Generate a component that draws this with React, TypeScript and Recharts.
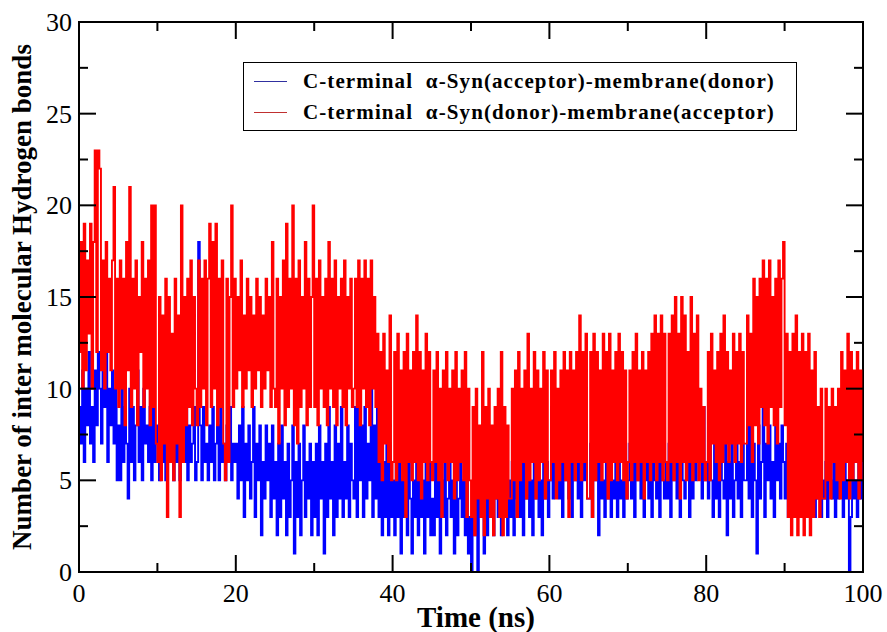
import React from 'react';
import { LineChart, Line, XAxis, YAxis, ReferenceArea } from 'recharts';

// hydrogen bond counts, one value every 0.2 ns
const acceptor = [
  9, 7, 11, 6, 10, 8, 12, 7, 9, 6, 11, 8, 12, 10, 7, 11, 9, 13, 6, 10, 8, 11, 7, 10, 5,
  8, 5, 10, 6, 9, 7, 4, 10, 6, 9, 5, 8, 11, 6, 9, 5, 10, 7, 8, 6, 9, 5, 10, 6, 8,
  7, 5, 9, 6, 8, 5, 7, 9, 6, 12, 5, 8, 6, 9, 5, 7, 8, 6, 9, 5, 8, 6, 7, 9, 5,
  6, 18, 8, 5, 9, 6, 7, 5, 8, 6, 9, 5, 7, 8, 5, 9, 6, 7, 5, 8, 6, 9, 5, 7, 6,
  7, 4, 8, 5, 9, 3, 7, 5, 8, 4, 6, 9, 3, 7, 5, 8, 2, 6, 4, 8, 5, 7, 3, 8, 4,
  6, 2, 7, 3, 8, 4, 6, 2, 7, 3, 5, 8, 1, 6, 3, 7, 2, 5, 8, 3, 6, 4, 7, 2, 6,
  3, 7, 2, 8, 4, 6, 1, 7, 3, 9, 4, 6, 2, 8, 3, 7, 4, 9, 3, 6, 4, 8, 3, 7, 5,
  4, 9, 3, 10, 5, 8, 3, 9, 4, 7, 5, 10, 3, 8, 4, 9, 3, 7, 2, 6, 3, 8, 2, 7, 3,
  5, 2, 7, 3, 6, 1, 5, 3, 7, 2, 6, 4, 1, 5, 3, 7, 2, 6, 3, 5, 1, 7, 3, 6, 2,
  4, 2, 6, 3, 7, 1, 5, 3, 6, 2, 4, 7, 3, 5, 1, 6, 2, 4, 7, 3, 5, 2, 6, 1, 3,
  0, 4, 2, 6, 0, 5, 3, 7, 1, 4, 2, 5, 3, 6, 2, 4, 7, 3, 5, 2, 6, 3, 4, 2, 5,
  3, 6, 2, 7, 4, 5, 3, 8, 2, 6, 4, 7, 3, 5, 2, 6, 4, 8, 3, 5, 2, 7, 4, 6, 3,
  5, 9, 4, 10, 6, 8, 4, 7, 3, 9, 5, 6, 4, 8, 3, 7, 5, 6, 4, 9, 3, 7, 5, 8, 4,
  4, 7, 3, 8, 5, 6, 2, 7, 4, 5, 3, 6, 4, 8, 3, 5, 4, 7, 3, 6, 4, 5, 3, 7, 4,
  5, 7, 4, 6, 3, 8, 5, 6, 4, 7, 3, 5, 6, 4, 7, 3, 8, 5, 4, 6, 3, 7, 5, 4, 6,
  4, 7, 3, 6, 5, 8, 4, 6, 3, 7, 5, 4, 8, 6, 3, 7, 4, 9, 5, 10, 6, 8, 4, 9, 5,
  6, 4, 8, 5, 3, 7, 4, 6, 3, 8, 5, 4, 7, 2, 6, 4, 8, 3, 5, 7, 4, 6, 3, 7, 5,
  5, 8, 4, 9, 3, 7, 5, 1, 8, 4, 6, 9, 3, 7, 5, 8, 4, 6, 3, 9, 5, 7, 4, 8, 6,
  4, 7, 3, 6, 5, 8, 3, 6, 4, 7, 3, 5, 4, 6, 3, 7, 5, 4, 6, 3, 5, 4, 7, 3, 5,
  4, 6, 3, 7, 5, 4, 8, 3, 6, 4, 5, 7, 3, 6, 4, 5, 0, 3, 6, 4, 5, 3, 7, 4, 6,
];

const donor = [
  12, 18, 10, 19, 11, 17, 13, 19, 10, 18, 23, 12, 23, 22, 11, 17, 10, 18, 12, 16, 11, 17, 21, 10, 16,
  9, 17, 10, 16, 8, 18, 11, 21, 9, 16, 10, 17, 8, 15, 12, 18, 9, 16, 10, 17, 8, 20, 9, 20, 7,
  6, 15, 5, 14, 7, 16, 3, 15, 6, 13, 5, 16, 7, 14, 3, 20, 6, 15, 8, 16, 9, 17, 8, 15, 10,
  8, 17, 9, 16, 10, 17, 8, 16, 19, 9, 18, 10, 19, 8, 16, 9, 17, 7, 5, 16, 6, 15, 20, 9, 16,
  10, 15, 11, 17, 9, 14, 10, 16, 11, 15, 9, 14, 10, 16, 11, 15, 9, 14, 10, 16, 11, 15, 9, 18, 10,
  9, 16, 7, 15, 10, 17, 8, 19, 9, 16, 10, 20, 8, 16, 7, 17, 9, 15, 10, 18, 8, 16, 9, 15, 20,
  9, 16, 8, 17, 10, 15, 9, 16, 8, 18, 10, 16, 9, 17, 8, 15, 10, 16, 9, 17, 8, 15, 10, 16, 9,
  10, 16, 9, 17, 8, 16, 10, 17, 9, 16, 8, 17, 10, 15, 9, 13, 6, 12, 5, 13, 7, 11, 6, 14, 5,
  6, 12, 5, 13, 6, 11, 5, 12, 3, 13, 6, 11, 5, 12, 6, 14, 5, 12, 4, 11, 6, 13, 5, 12, 6,
  5, 11, 6, 12, 5, 10, 3, 11, 6, 12, 5, 10, 6, 11, 4, 12, 5, 10, 6, 11, 5, 12, 3, 10, 5,
  3, 9, 2, 10, 4, 8, 3, 12, 2, 9, 4, 10, 3, 8, 2, 9, 4, 10, 3, 12, 2, 9, 3, 8, 4,
  4, 10, 5, 11, 3, 12, 5, 10, 6, 11, 4, 13, 5, 10, 6, 12, 4, 11, 5, 10, 6, 12, 4, 11, 5,
  5, 11, 6, 12, 4, 10, 5, 11, 6, 12, 5, 11, 3, 12, 6, 11, 5, 12, 6, 14, 5, 12, 6, 13, 4,
  4, 12, 3, 13, 5, 12, 6, 11, 5, 13, 6, 12, 4, 13, 5, 11, 6, 12, 5, 13, 6, 12, 5, 11, 4,
  6, 11, 5, 12, 6, 13, 5, 11, 6, 12, 4, 11, 6, 12, 5, 13, 6, 14, 5, 13, 6, 14, 5, 13, 6,
  5, 13, 6, 14, 5, 15, 6, 13, 4, 15, 6, 14, 5, 12, 6, 15, 5, 13, 6, 14, 5, 10, 6, 9, 5,
  6, 12, 5, 13, 7, 11, 6, 12, 5, 13, 6, 14, 7, 12, 6, 11, 7, 13, 6, 12, 7, 13, 6, 12, 7,
  7, 14, 8, 13, 6, 16, 8, 15, 7, 16, 9, 17, 8, 16, 7, 17, 9, 15, 8, 16, 7, 17, 9, 16, 18,
  8, 13, 3, 12, 2, 13, 3, 14, 2, 12, 3, 13, 2, 12, 3, 13, 2, 11, 3, 12, 4, 9, 3, 10, 4,
  4, 10, 5, 9, 4, 10, 6, 9, 5, 10, 4, 12, 5, 11, 6, 13, 4, 12, 5, 11, 6, 12, 4, 11, 5,
];

const step = 0.2;
const xTicks = [0, 10, 20, 30, 40, 50, 60, 70, 80, 90, 100];
const yTicks = [0, 2.5, 5, 7.5, 10, 12.5, 15, 17.5, 20, 22.5, 25, 27.5, 30];

const rows = donor.map((d, i) => ({ t: +(i * step).toFixed(1), acceptor: acceptor[i], donor: d }));

const W = 887;
const H = 632;
const LEFT = 79;
const RIGHT = 863;
const TOP = 22;
const BOTTOM = 572;
const FONT = "'Liberation Serif', 'Times New Roman', 'DejaVu Serif', serif";

function XTick(props: any) {
  const { x, payload } = props;
  const major = payload.value % 20 === 0;
  const len = major ? 17 : 9;
  return (
    <g>
      <line x1={x} x2={x} y1={BOTTOM} y2={BOTTOM - len} stroke="#000" strokeWidth={2} />
      <line x1={x} x2={x} y1={TOP} y2={TOP + len} stroke="#000" strokeWidth={2} />
      {major && (
        <text x={x} y={602} textAnchor="middle" fontFamily={FONT} fontSize={26} fill="#000">
          {payload.value}
        </text>
      )}
    </g>
  );
}

function YTick(props: any) {
  const { y, payload } = props;
  const major = payload.value % 5 === 0;
  const len = major ? 17 : 9;
  return (
    <g>
      <line x1={LEFT} x2={LEFT + len} y1={y} y2={y} stroke="#000" strokeWidth={2} />
      <line x1={RIGHT} x2={RIGHT - len} y1={y} y2={y} stroke="#000" strokeWidth={2} />
      {major && (
        <text x={72} y={y + 9} textAnchor="end" fontFamily={FONT} fontSize={26} fill="#000">
          {payload.value}
        </text>
      )}
    </g>
  );
}

const legendItems = [
  { label: 'C-terminal  \u03b1-Syn(acceptor)-membrane(donor)', color: '#3030a0' },
  { label: 'C-terminal  \u03b1-Syn(donor)-membrane(acceptor)', color: '#c03030' },
];

export default function App() {
  return (
    <div style={{ position: 'relative', width: W, height: H, background: '#fff' }}>
      <style>{'body{margin:0}'}</style>
      <LineChart width={W} height={H} data={rows} margin={{ top: TOP, right: W - RIGHT, bottom: 0, left: 0 }}>
        <XAxis
          dataKey="t"
          type="number"
          domain={[0, 100]}
          ticks={xTicks}
          interval={0}
          height={H - BOTTOM}
          tick={XTick}
          tickLine={false}
          axisLine={{ stroke: '#000', strokeWidth: 2 }}
        />
        <YAxis
          type="number"
          domain={[0, 30]}
          ticks={yTicks}
          interval={0}
          width={LEFT}
          tick={YTick}
          tickLine={false}
          axisLine={{ stroke: '#000', strokeWidth: 2 }}
        />
        <Line
          dataKey="acceptor"
          type="stepAfter"
          stroke="#0000ff"
          strokeWidth={1.9}
          dot={false}
          isAnimationActive={false}
        />
        <Line
          dataKey="donor"
          type="stepAfter"
          stroke="#ff0000"
          strokeWidth={1.9}
          dot={false}
          isAnimationActive={false}
        />
        <ReferenceArea x1={0} x2={100} y1={0} y2={30} fill="#fff" fillOpacity={0} stroke="#000" strokeWidth={2} />
      </LineChart>

      <svg width={W} height={H} style={{ position: 'absolute', left: 0, top: 0, pointerEvents: 'none' }}>
        <text x={476} y={627} textAnchor="middle" fontFamily={FONT} fontWeight="bold" fontSize={29} fill="#000">
          Time (ns)
        </text>
        <text
          transform="translate(31, 297) rotate(-90)"
          textAnchor="middle"
          fontFamily={FONT}
          fontWeight="bold"
          fontSize={27}
          fill="#000"
        >
          Number of inter molecular Hydrogen bonds
        </text>
      </svg>

      <div
        style={{
          position: 'absolute',
          left: 243,
          top: 62,
          width: 554,
          height: 69,
          boxSizing: 'border-box',
          border: '1.5px solid #000',
          background: '#fff',
          fontFamily: FONT,
          fontWeight: 'bold',
          fontSize: 21,
          letterSpacing: 1.1,
          padding: '3px 0 0 10px',
        }}
      >
        {legendItems.map((it) => (
          <div key={it.label} style={{ display: 'flex', alignItems: 'center', height: 31, whiteSpace: 'pre' }}>
            <span style={{ display: 'inline-block', width: 33, height: 0, borderTop: `1.5px solid ${it.color}`, marginRight: 16 }} />
            <span>{it.label}</span>
          </div>
        ))}
      </div>
    </div>
  );
}
